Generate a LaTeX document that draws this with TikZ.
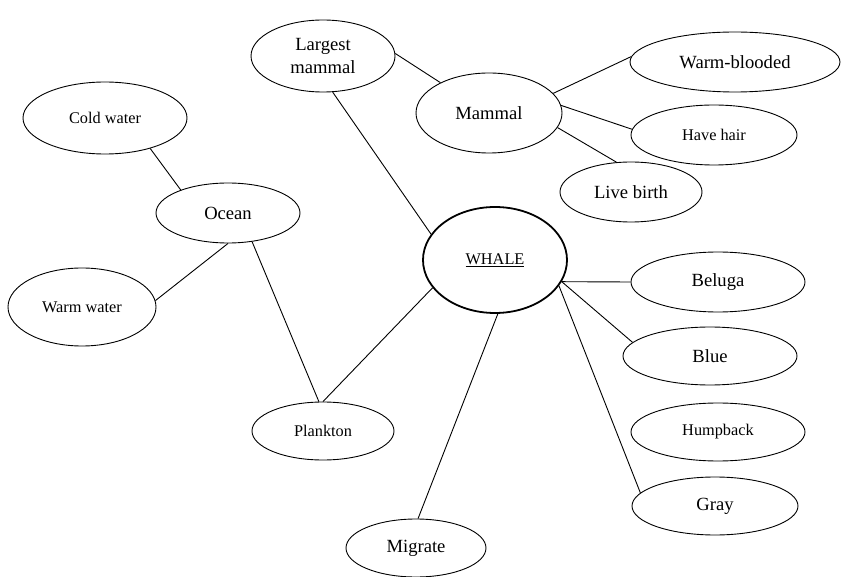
\documentclass[tikz,border=0pt]{standalone}
\usepackage{fontspec}
\setmainfont{Liberation Serif}
\usetikzlibrary{shapes.geometric}
\begin{document}
\begin{tikzpicture}[x=1pt,y=-1pt,
  bub/.style={draw, ellipse, inner sep=0pt, line width=0.9pt, align=center,
              font=\fontsize{18.6}{23}\selectfont},
  small/.style={font=\fontsize{16.3}{20}\selectfont},
  link/.style={line width=0.9pt}]
\useasboundingbox (0,0) rectangle (841,577);

\node[bub, minimum width=144pt, minimum height=72pt] (lm) at (323,56) {Largest\\mammal};
\node[bub, minimum width=146pt, minimum height=80pt] (ma) at (489,113) {Mammal};
\node[bub, minimum width=210pt, minimum height=60pt] (wb) at (735,62) {Warm-blooded};
\node[bub, small, minimum width=166pt, minimum height=60pt] (hh) at (714,135) {Have hair};
\node[bub, minimum width=142pt, minimum height=60pt] (lb) at (631,192) {Live birth};
\node[bub, small, minimum width=164pt, minimum height=72pt] (cw) at (105,118) {Cold water};
\node[bub, minimum width=144pt, minimum height=60pt] (oc) at (228,213) {Ocean};
\node[bub, small, minimum width=148pt, minimum height=78pt] (ww) at (82,307) {Warm water};
\node[bub, small, line width=1.8pt, minimum width=144pt, minimum height=106pt] (wh) at (495,260) {\underline{WHALE}};
\node[bub, minimum width=174pt, minimum height=60pt] (be) at (718,282) {Beluga};
\node[bub, minimum width=174pt, minimum height=58pt] (bl) at (710,356) {Blue};
\node[bub, small, minimum width=174pt, minimum height=58pt] (hu) at (718,432) {Humpback};
\node[bub, minimum width=166pt, minimum height=58pt] (gr) at (715,506) {Gray};
\node[bub, small, minimum width=142pt, minimum height=58pt] (pl) at (323,431) {Plankton};
\node[bub, minimum width=140pt, minimum height=58pt] (mi) at (416,548) {Migrate};

\draw[link] (lm.2) -- (ma.148);
\draw[link] (lm.-75) -- (wh.158);
\draw[link] (ma.17.6) -- (wb.177);
\draw[link] (ma.6.6) -- (hh.176.5);
\draw[link] (ma.-12) -- (lb.116);
\draw[link] (cw.-34) -- (oc.154);
\draw[link] (oc.-90) -- (ww.5);
\draw[link] (oc.-50) -- (pl.98);
\draw[link] (wh.204) -- (pl.90);
\draw[link] (wh.-87) -- (mi.86);
\draw[link] (wh.-18.7) -- (be.180);
\draw[link] (wh.-18.7) -- (bl.170);
\draw[link] (wh.-22) -- (gr.170);
\end{tikzpicture}
\end{document}
